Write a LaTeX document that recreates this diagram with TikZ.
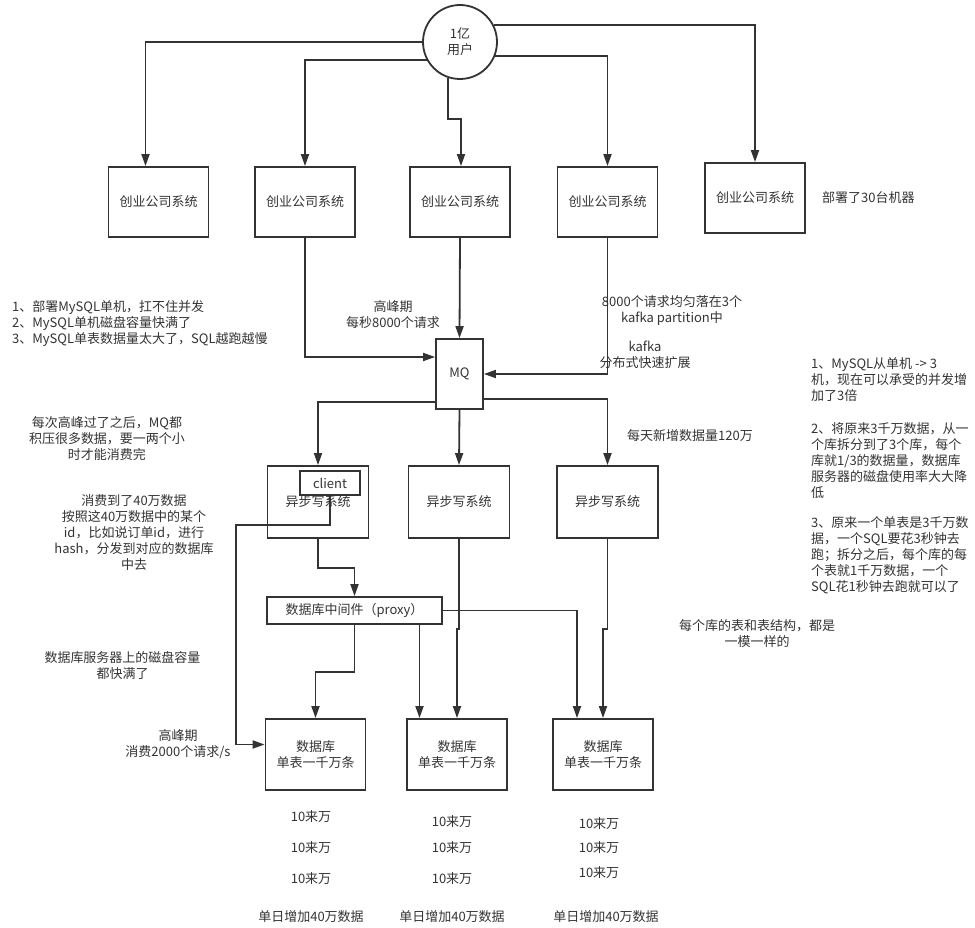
\documentclass[tikz,border=0pt]{standalone}
\usepackage{fontspec}
\setmainfont{Noto Sans CJK SC}
\usetikzlibrary{arrows.meta}
\definecolor{ink}{HTML}{333333}

\begin{document}
\begin{tikzpicture}[x=1pt,y=-1pt,
  every node/.style={text=ink,font=\fontsize{13}{16}\selectfont},
  sysbox/.style={draw=ink,line width=1.8pt,minimum width=100pt,minimum height=70pt,inner sep=0pt,align=center},
  wire/.style={draw=ink,line width=1.8pt,-{Triangle[width=8pt,length=12pt]}},
  note/.style={align=center,inner sep=0pt}]

  \useasboundingbox (0,0) rectangle (975,928);

  % Users and the five company systems
  \node[draw=ink,line width=1.8pt,circle,minimum size=74pt,inner sep=0pt,align=center] (users) at (460,42) {1亿\\用户};
  \foreach \i/\x in {1/158.5,2/305,3/460,4/607.5}
    \node[sysbox] (sys\i) at (\x,202) {创业公司系统};
  \node[sysbox] (sys5) at (755,198) {创业公司系统};
  \node[note,anchor=west] (machines) at (822,198) {部署了30台机器};

  \draw[wire] (users.west) -| ([xshift=-13pt]sys1.north);
  \draw[wire] (users.209) -| (sys2.north);
  \coordinate (jog3) at (461,119);
  \draw[wire] (users.251) |- (jog3) -- (jog3 |- sys3.north);
  \draw[wire] (users.338) -| (sys4.north);
  \draw[wire] (users.26) -| (sys5.north);

  % MQ
  \node[sysbox,minimum width=47pt] (mq) at (459.5,374) {MQ};
  \draw[wire] (sys2.south) |- ([yshift=17pt]mq.west);
  \draw[wire] (sys3.south) -- (mq.north);
  \draw[wire] (sys4.south) |- (mq.east);

  \node[note,anchor=west,align=left] (problems) at (12,324)
    {1、部署MySQL单机，扛不住并发\\2、MySQL单机磁盘容量快满了\\3、MySQL单表数据量太大了，SQL越跑越慢};
  \node[note] (peak) at (393,315) {高峰期\\每秒8000个请求};
  \node[note] (spread) at (672,310.5) {8000个请求均匀落在3个\\kafka partition中};
  \node[note] (kafka) at (645,354.5) {kafka\\分布式快速扩展};

  % Async writers
  \node[sysbox,minimum width=101pt,minimum height=72pt] (async1) at (318,502) {异步写系统};
  \node[sysbox,minimum width=101pt,minimum height=72pt] (async2) at (459,502) {异步写系统};
  \node[sysbox,minimum width=101pt,minimum height=72pt] (async3) at (607.5,502) {异步写系统};
  \node[draw=ink,line width=1.8pt,minimum width=60pt,minimum height=24pt,inner sep=0pt] (client) at (330,483) {client};

  \draw[wire] ([yshift=-28pt]mq.west) -| (async1.north);
  \draw[wire] (mq.south) -- (async2.north);
  \draw[wire] ([yshift=-25pt]mq.east) -| (async3.north);

  \node[note] (backlog) at (107,439) {每次高峰过了之后，MQ都\\积压很多数据，要一两个小\\时才能消费完};
  \node[note] (consume) at (134,533) {消费到了40万数据\\按照这40万数据中的某个\\id，比如说订单id，进行\\hash，分发到对应的数据库\\中去};
  \node[note] (daily) at (690,436) {每天新增数据量120万};

  % Proxy and databases
  \node[sysbox,minimum width=175pt,minimum height=27pt] (proxy) at (354.5,610.5) {数据库中间件（proxy）};
  \foreach \i/\x in {1/315.5,2/457,3/603}
    \node[sysbox,minimum height=71pt] (db\i) at (\x,754.5) {数据库\\单表一千万条};

  \draw[wire] (async1.south) -- ++(0,29) -| (proxy.north);
  \coordinate (bend) at (236,525);
  \draw[wire] (client.south) |- (bend) |- ([yshift=10pt]db1.west);
  \draw[wire] (proxy.south) -- ++(0,47) -| (db1.north);
  \draw[wire] ([xshift=65pt]proxy.south) -- ([xshift=65pt]proxy.south |- db2.north);
  \draw[wire] (proxy.east) -| ([xshift=-26pt]db3.north);
  \draw[wire] (async2.south) -- ++(0,90) -| (db2.north);
  \draw[wire] (async3.south) -- ++(0,90) -| (db3.north);

  \node[note] (diskfull) at (122.5,666) {数据库服务器上的磁盘容量\\都快满了};
  \node[note] (rate) at (178,744.5) {高峰期\\消费2000个请求/s};
  \node[note] (schema) at (757,634) {每个库的表和表结构，都是\\一模一样的};

  % Right-hand notes
  \node[note,anchor=west,align=left] (gain1) at (811,379.5)
    {1、MySQL从单机 -> 3\\机，现在可以承受的并发增\\加了3倍};
  \node[note,anchor=west,align=left] (gain2) at (811,461)
    {2、将原来3千万数据，从一\\个库拆分到了3个库，每个\\库就1/3的数据量，数据库\\服务器的磁盘使用率大大降\\低};
  \node[note,anchor=west,align=left] (gain3) at (811,555)
    {3、原来一个单表是3千万数\\据，一个SQL要花3秒钟去\\跑；拆分之后，每个库的每\\个表就1千万数据，一个\\SQL花1秒钟去跑就可以了};

  % Row counts under each database
  \foreach \i/\x/\ya/\yb/\yc/\xs in {1/311/817/848/879/311, 2/452/822/848/879/452, 3/599/824/848/873/606}{
    \node[note] (cnt\i-1) at (\x,\ya) {10来万};
    \node[note] (cnt\i-2) at (\x,\yb) {10来万};
    \node[note] (cnt\i-3) at (\x,\yc) {10来万};
    \node[note] (sum\i) at (\xs,917) {单日增加40万数据};
  }

\end{tikzpicture}
\end{document}
